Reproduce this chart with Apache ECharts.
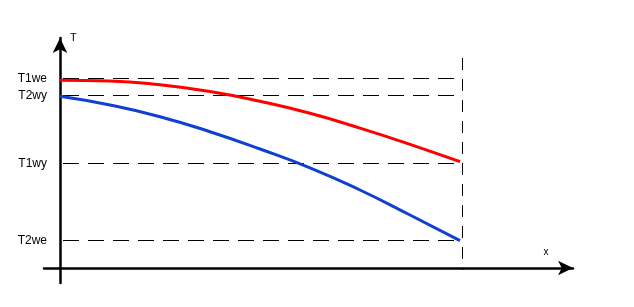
<!DOCTYPE html>
<html>
<head>
<meta charset="utf-8">
<script src="https://cdn.jsdelivr.net/npm/echarts@6/dist/echarts.min.js"></script>
<style>
html,body{margin:0;padding:0;background:#fff;}
#chart{width:634px;height:307px;}
</style>
</head>
<body>
<div id="chart"></div>
<script>
// Positions along x (distance from the T axis)
const xPos = [0, 50, 100, 150, 200, 250, 300, 350, 400];
// Temperature curves
const redT = [187.7, 187, 183.2, 176.5, 166.7, 154.7, 139.9, 123.7, 106.3];
const blueT = [171.7, 163, 151.3, 136.3, 119, 100.2, 78, 53, 27.3];
// Reference levels and their tick labels
const levelValues = [189.5, 172.5, 104.5, 27.5];
const levelLabels = ['T1we', 'T2wy', 'T1wy', 'T2we'];
// Length marker (vertical dashed line)
const xEnd = 402.5;
const xLineTop = 210;

const font = 'Arial, "Liberation Sans", sans-serif';

const series = [];
levelValues.forEach(function (v) {
  series.push({
    type: 'line', silent: true, showSymbol: false, z: 1,
    data: [[3, v], [xEnd, v]],
    lineStyle: { color: '#000', width: 1, type: [16, 9] }
  });
});
series.push({
  type: 'line', silent: true, showSymbol: false, z: 1,
  data: [[xEnd, xLineTop], [xEnd, -2]],
  lineStyle: { color: '#000', width: 1, type: [12, 9] }
});
series.push({
  type: 'line', showSymbol: false, smooth: 0.5, z: 3,
  data: xPos.map(function (x, i) { return [x, redT[i]]; }),
  lineStyle: { color: '#ff0000', width: 3 }
});
series.push({
  type: 'line', showSymbol: false, smooth: 0.5, z: 3,
  data: xPos.map(function (x, i) { return [x, blueT[i]]; }),
  lineStyle: { color: '#1040d0', width: 3 }
});

const chart = echarts.init(document.getElementById('chart'), null, { renderer: 'canvas' });
chart.setOption({
  backgroundColor: '#fff',
  animation: false,
  grid: { left: 44, right: 61, top: 38, bottom: 24, containLabel: false },
  xAxis: {
    type: 'value', min: -16, max: 513,
    name: 'x', nameLocation: 'end', nameGap: -27,
    nameTextStyle: { color: '#000', fontSize: 10, fontFamily: font, align: 'center', verticalAlign: 'bottom', padding: [0, 0, 11, 0] },
    axisLine: { show: true, onZero: true, symbol: ['none', 'arrow'], symbolSize: [11, 15], lineStyle: { color: '#000', width: 2.5 } },
    axisTick: { show: false }, axisLabel: { show: false }, splitLine: { show: false }
  },
  yAxis: {
    type: 'value', min: -15, max: 230,
    name: 'T', nameLocation: 'end', nameGap: 0,
    nameTextStyle: { color: '#000', fontSize: 11, fontFamily: font, align: 'left', verticalAlign: 'middle', padding: [0, 0, 0, 10] },
    axisLine: { show: true, onZero: true, symbol: ['none', 'arrow'], symbolSize: [11, 15], lineStyle: { color: '#000', width: 2.5 } },
    axisTick: { show: false },
    axisLabel: {
      show: true, customValues: levelValues, margin: -3,
      color: '#000', fontSize: 12, fontFamily: font,
      formatter: function (v) {
        const i = levelValues.indexOf(v);
        return i >= 0 ? levelLabels[i] : '';
      }
    },
    splitLine: { show: false }
  },
  series: series
});
</script>
</body>
</html>
